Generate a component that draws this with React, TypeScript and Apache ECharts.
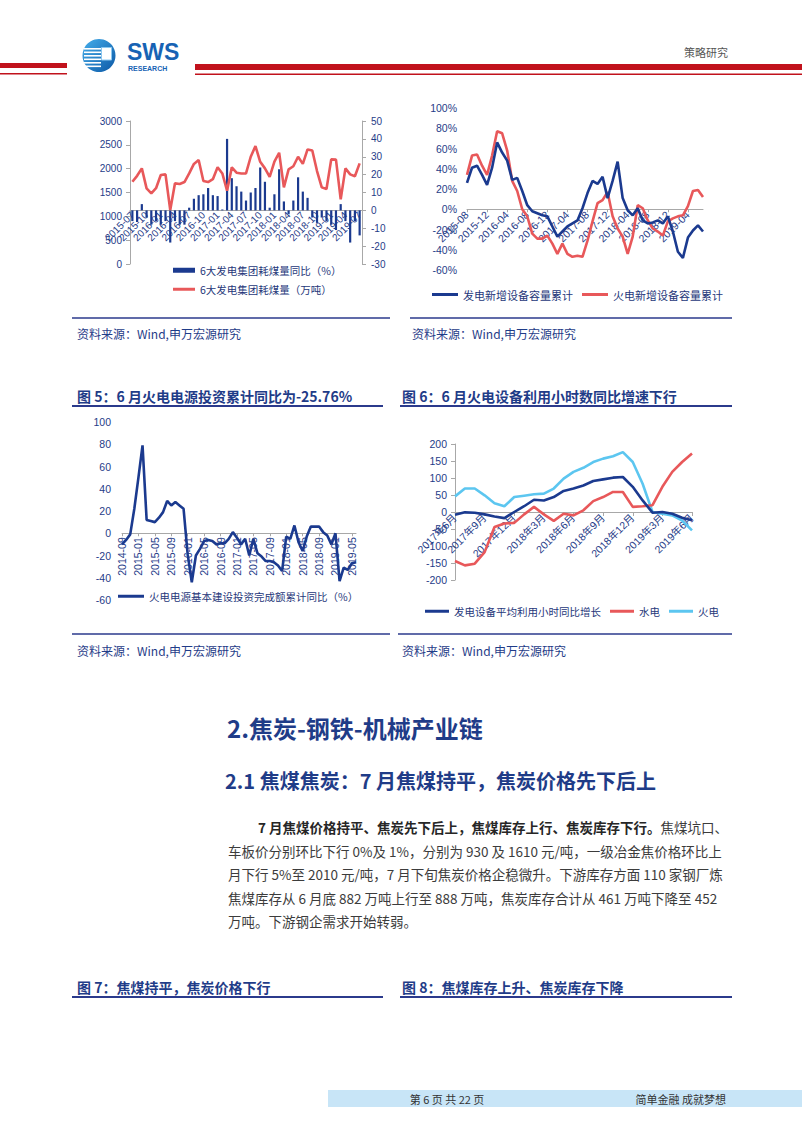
import React, { useEffect, useRef } from "react";
import * as echarts from "echarts";

// ---------- Chart A (top-left): 6大发电集团耗煤量 ----------
const c1Months = [
  "2015-07","2015-08","2015-09","2015-10","2015-11","2015-12",
  "2016-01","2016-02","2016-03","2016-04","2016-05","2016-06","2016-07","2016-08","2016-09","2016-10","2016-11","2016-12",
  "2017-01","2017-02","2017-03","2017-04","2017-05","2017-06","2017-07","2017-08","2017-09","2017-10","2017-11","2017-12",
  "2018-01","2018-02","2018-03","2018-04","2018-05","2018-06","2018-07","2018-08","2018-09","2018-10","2018-11","2018-12",
  "2019-01","2019-02","2019-03","2019-04","2019-05","2019-06","2019-07",
];
const c1YoY = [
  -6, -6.5, 3.5, -4, -8, -6, -8, -6, -18, -6,
  -8, -8, 1.5, 6.5, 8.5, 9, 12.5, 8.5, 8, 0.5,
  40, 18, 13.5, 10.5, 5.5, 10, 12.5, 24, 16, 1.5,
  9, 23, 5, -2, 5.5, 18.5, 10.5, 7, -4, -7,
  -4, -6, -8, -11, 3.5, -6, -18, -6, -14,
];
const c1Coal = [
  1726, 1850, 2006, 1587, 1482, 1590, 1866, 1880, 1130, 1692,
  1680, 1720, 1900, 2100, 2180, 1740, 1720, 1780, 2030, 1900,
  1537, 2027, 1915, 1900, 1900, 2250, 2474, 2145, 2006, 1830,
  2150, 2334, 1608, 1985, 2050, 2250, 2100, 2404, 2380, 1950,
  1608, 1573, 2194, 2190, 1356, 2006, 1880, 1840, 2110,
];
const c1LeftTicks = [0, 3000, 500];
const c1RightTicks = [-30, 50, 10];

// ---------- Chart B (top-right): 新增设备容量累计 ----------
const c2Months = [
  "2015-08","2015-09","2015-10","2015-11","2015-12",
  "2016-01","2016-02","2016-03","2016-04","2016-05","2016-06","2016-07","2016-08","2016-09","2016-10","2016-11","2016-12",
  "2017-01","2017-02","2017-03","2017-04","2017-05","2017-06","2017-07","2017-08","2017-09","2017-10","2017-11","2017-12",
  "2018-01","2018-02","2018-03","2018-04","2018-05","2018-06","2018-07","2018-08","2018-09","2018-10","2018-11","2018-12",
  "2019-01","2019-02","2019-03","2019-04","2019-05","2019-06","2019-07",
];
const c2Total = [
  26, 41, 43, 34, 24, 41, 66, 56, 48, 29,
  31, 18, 4, -2, -4, -6, -7, -17, -27, -22,
  -17, -14, -11, 1, 16, 28, 25, 32, 11, 28,
  47, 11, -1, -6, 1, -11, -14, -13, -11, -14,
  -7, -22, -42, -48, -28, -21, -16, -22,
];
const c2Thermal = [
  34, 53, 54, 43, 34, 53, 77, 75, 58, 28,
  18, 0, -7, -24, -29, -29, -26, -34, -44, -34,
  -44, -47, -46, -47, -31, -12, 6, 9, 17, -7,
  -19, -27, -44, -27, 4, 1, -11, -19, -22, -26,
  -12, -9, -7, -6, 3, 18, 19, 12,
];
const c2Ticks = [-60, 100, 20];

// ---------- Chart C (bottom-left): 火电电源基本建设投资 ----------
const c3Months = [
  "2014-09","2014-10","2014-11","2014-12",
  "2015-01","2015-02","2015-03","2015-04","2015-05","2015-06","2015-07","2015-08","2015-09","2015-10","2015-11","2015-12",
  "2016-01","2016-02","2016-03","2016-04","2016-05","2016-06","2016-07","2016-08","2016-09","2016-10","2016-11","2016-12",
  "2017-01","2017-02","2017-03","2017-04","2017-05","2017-06","2017-07","2017-08","2017-09","2017-10","2017-11","2017-12",
  "2018-01","2018-02","2018-03","2018-04","2018-05","2018-06","2018-07","2018-08","2018-09","2018-10","2018-11","2018-12",
  "2019-01","2019-02","2019-03","2019-04","2019-05","2019-06",
];
const c3Invest = [
  -10, -6, -1, 22, 50, 79,
  12, 11, 10, 14, 19, 29, 25, 28, 25, 22,
  -19, -44, -20, -14, -7, -6, -7, -10, -9, -9, -5, 1,
  -4, -10, -5, -20, -5, -18, -21, -25, -25, -26, -29,
  -34, -3, -5,
  7, -8, -16, -3, 6, 6, 6, 1, -2, -10, 0, -43, -31, -33, -27, -26,
];
const c3Ticks = [-60, 100, 20];

// ---------- Chart D (bottom-right): 设备平均利用小时同比 ----------
const c4Months = [
  "2017年6月","2017年7月","2017年8月","2017年9月","2017年10月","2017年11月","2017年12月",
  "2018年1月","2018年2月","2018年3月","2018年4月","2018年5月","2018年6月","2018年7月","2018年8月","2018年9月","2018年10月","2018年11月","2018年12月",
  "2019年1月","2019年2月","2019年3月","2019年4月","2019年5月","2019年6月",
];
const c4Total = [-8, -1, -2, -7, -13, -18, 0, 17, 36, 34, 44, 62, 69, 78, 91, 96, 101, 103, 74, 34, -2, 0, -5, -17, -24];
const c4Hydro = [-144, -157, -152, -118, -44, -34, -32, -7, 15, -7, -26, -5, -10, 5, 32, 44, 59, 59, 15, 17, 20, 74, 118, 147, 172];
const c4Thermal = [46, 69, 69, 49, 26, 17, 44, 48, 52, 54, 69, 98, 118, 130, 147, 157, 164, 176, 147, 83, 0, -5, -10, -25, -54];
const c4Ticks = [-200, 200, 50];

// ---------- page texts ----------
const paraLines = [
  "车板价分别环比下行 0%及 1%，分别为 930 及 1610 元/吨，一级冶金焦价格环比上",
  "月下行 5%至 2010 元/吨，7 月下旬焦炭价格企稳微升。下游库存方面 110 家钢厂炼",
  "焦煤库存从 6 月底 882 万吨上行至 888 万吨，焦炭库存合计从 461 万吨下降至 452",
  "万吨。下游钢企需求开始转弱。",
];

const NAVY = "#1B3A8F";
const RED = "#E8585A";
const SKY = "#5CC6F0";
const GRAY = "#A8A8A8";
const LBL = "#1F3C88";
const TITLE = "#1F3C88";
const FONT = "'Liberation Sans', 'Noto Sans CJK SC', sans-serif";
const CJK = "'Noto Sans CJK SC', 'Liberation Sans', sans-serif";

const axisLbl = (extra: any = {}) => ({ color: LBL, fontSize: 10.5, fontFamily: FONT, ...extra });

// grid geometry (pixels) — used to place each category axis on the zero line
const G = [
  { left: 130, top: 121, width: 232, height: 143 },
  { left: 467, top: 108, width: 236, height: 162 },
  { left: 122, top: 422, width: 234, height: 178 },
  { left: 455, top: 444, width: 237, height: 136 },
];
function zeroOffset(g: { top: number; height: number }, ticks: number[]) {
  const [min, max] = ticks;
  const zeroY = g.top + (g.height * max) / (max - min);
  return -(g.top + g.height - zeroY);
}

function legendCfg(names: string[], left: number, top: number, w: number, h: number, fs: number, gap = 8) {
  return {
    data: names.map((n) => ({ name: n, icon: "rect" })),
    left, top, itemWidth: w, itemHeight: h, itemGap: gap, padding: 0,
    selectedMode: false,
    textStyle: { color: "#26377A", fontSize: fs, fontFamily: CJK },
  };
}

function txt(text: string, x: number, y: number, fontSize: number, fill: string, bold = false, align = "left") {
  return {
    type: "text", x, y, silent: true,
    style: { text, fontSize, fontFamily: CJK, fontWeight: bold ? "bold" : "normal", fill, align, verticalAlign: "middle" },
  };
}
function hline(x1: number, x2: number, y: number, w: number, color: string) {
  return { type: "line", silent: true, shape: { x1, y1: y, x2, y2: y }, style: { stroke: color, lineWidth: w } };
}

function buildOption(): any {
  const graphic: any[] = [
    // header
    { type: "rect", shape: { x: 0, y: 63, width: 67, height: 5 }, style: { fill: "#C1121C" } },
    { type: "rect", shape: { x: 0, y: 73, width: 67, height: 1.5 }, style: { fill: "#C1121C" } },
    { type: "rect", shape: { x: 195, y: 64, width: 607, height: 6 }, style: { fill: "#C1121C" } },
    { type: "rect", shape: { x: 195, y: 73.5, width: 607, height: 1.5 }, style: { fill: "#C1121C" } },
    {
      type: "circle", shape: { cx: 99, cy: 55.5, r: 16.5 },
      style: { fill: new echarts.graphic.LinearGradient(0, 0, 1, 1, [{ offset: 0, color: "#45AEEB" }, { offset: 1, color: "#0C58A6" }]) },
    },
    ...[48, 51.5, 55, 58.5, 62, 65.5].map((y) => ({ type: "rect", shape: { x: 84, y, width: 17, height: 1.6 }, style: { fill: "#FFFFFF" } })),
    { type: "rect", shape: { x: 101.5, y: 47.5, width: 10, height: 12.5 }, style: { fill: "#FFFFFF", stroke: "#8CC8F0", lineWidth: 1 } },
    { type: "text", x: 127, y: 51.5, style: { text: "SWS", fontSize: 23, fontWeight: "bold", fontFamily: "'Liberation Sans', sans-serif", fill: "#1763B4", verticalAlign: "middle" } },
    { type: "text", x: 128, y: 68, style: { text: "RESEARCH", fontSize: 7, fontWeight: "bold", fontFamily: "'Liberation Sans', sans-serif", fill: "#1763B4", verticalAlign: "middle" } },
    txt("策略研究", 684, 52, 11, "#555555"),

    // sources top row
    hline(72, 390, 318, 1.5, "#2B3A8C"),
    hline(410, 732, 318, 1.5, "#2B3A8C"),
    txt("资料来源：Wind,申万宏源研究", 77, 333, 12, "#1F3C88"),
    txt("资料来源：Wind,申万宏源研究", 412, 333, 12, "#1F3C88"),

    // titles fig 5 / 6
    txt("图 5：6 月火电电源投资累计同比为-25.76%", 77, 396, 14, TITLE, true),
    txt("图 6：6 月火电设备利用小时数同比增速下行", 402, 396, 14, TITLE, true),
    hline(72, 383, 406, 2, "#2B3A8C"),
    hline(400, 732, 406, 2, "#2B3A8C"),

    // sources bottom row
    hline(72, 390, 634, 1.5, "#2B3A8C"),
    hline(398, 732, 634, 1.5, "#2B3A8C"),
    txt("资料来源：Wind,申万宏源研究", 77, 650, 12, "#1F3C88"),
    txt("资料来源：Wind,申万宏源研究", 402, 650, 12, "#1F3C88"),

    // headings
    txt("2.焦炭-钢铁-机械产业链", 227, 727, 24, TITLE, true),
    txt("2.1 焦煤焦炭：7 月焦煤持平，焦炭价格先下后上", 225, 780, 20, TITLE, true),

    // paragraph
    {
      type: "text", x: 258, y: 827, silent: true,
      style: {
        text: "{b|7 月焦煤价格持平、焦炭先下后上，焦煤库存上行、焦炭库存下行。}{n|焦煤坑口、}",
        verticalAlign: "middle",
        rich: {
          b: { fontSize: 13.5, fontWeight: "bold", fontFamily: CJK, fill: "#262626" },
          n: { fontSize: 13.5, fontFamily: CJK, fill: "#3C3C3C" },
        },
      },
    },
    ...paraLines.map((t, i) => txt(t, 228, 850.5 + i * 23.5, 13.5, "#3C3C3C")),

    // titles fig 7 / 8
    txt("图 7：焦煤持平，焦炭价格下行", 77, 987, 14, TITLE, true),
    txt("图 8：焦煤库存上升、焦炭库存下降", 402, 987, 14, TITLE, true),
    hline(72, 383, 997, 2, "#2B3A8C"),
    hline(400, 732, 997, 2, "#2B3A8C"),

    // footer
    { type: "rect", shape: { x: 328, y: 1090, width: 474, height: 17 }, style: { fill: "#C8E5F7" } },
    txt("第 6 页 共 22 页", 447, 1098.5, 11, "#333333", false, "center"),
    txt("简单金融 成就梦想", 726, 1098.5, 11, "#333333", false, "right"),
  ];

  const gridBase = { outerBoundsMode: "none", containLabel: false };
  const xLine = { onZero: false, lineStyle: { color: GRAY, width: 1 } };

  return {
    animation: false,
    backgroundColor: "#FFFFFF",
    textStyle: { fontFamily: FONT },
    grid: G.map((g) => ({ ...gridBase, ...g })),
    xAxis: [
      {
        gridIndex: 0, type: "category", data: c1Months, boundaryGap: true,
        offset: zeroOffset(G[0], c1RightTicks),
        axisLine: xLine,
        axisTick: { show: false },
        axisLabel: axisLbl({ interval: 2, rotate: 45, margin: 3, fontSize: 10 }),
      },
      {
        gridIndex: 1, type: "category", data: c2Months, boundaryGap: false,
        offset: zeroOffset(G[1], c2Ticks),
        axisLine: xLine,
        axisTick: { show: true, interval: 3, length: 3, lineStyle: { color: GRAY } },
        axisLabel: axisLbl({ interval: 3, rotate: 45, margin: 4 }),
      },
      {
        gridIndex: 2, type: "category", data: c3Months, boundaryGap: false,
        offset: zeroOffset(G[2], c3Ticks),
        axisLine: xLine,
        axisTick: { show: true, interval: 3, length: 3, lineStyle: { color: GRAY } },
        axisLabel: axisLbl({ interval: 3, rotate: 90, margin: 4 }),
      },
      {
        gridIndex: 3, type: "category", data: c4Months, boundaryGap: false,
        offset: zeroOffset(G[3], c4Ticks),
        axisLine: xLine,
        axisTick: { show: true, interval: 2, length: 4, lineStyle: { color: GRAY } },
        axisLabel: axisLbl({ interval: 2, rotate: 45, margin: 4 }),
      },
    ],
    yAxis: [
      {
        gridIndex: 0, type: "value", min: c1LeftTicks[0], max: c1LeftTicks[1], interval: c1LeftTicks[2],
        axisLine: { show: true, lineStyle: { color: GRAY } },
        axisTick: { show: true, length: 4, lineStyle: { color: GRAY } },
        splitLine: { show: false },
        axisLabel: axisLbl({ margin: 8, fontSize: 10, formatter: (v: number) => String(v) }),
      },
      {
        gridIndex: 0, type: "value", position: "right", min: c1RightTicks[0], max: c1RightTicks[1], interval: c1RightTicks[2],
        axisLine: { show: true, lineStyle: { color: GRAY } },
        axisTick: { show: true, length: 4, lineStyle: { color: GRAY } },
        splitLine: { show: false },
        axisLabel: axisLbl({ margin: 9, fontSize: 10, formatter: (v: number) => String(v) }),
      },
      {
        gridIndex: 1, type: "value", min: c2Ticks[0], max: c2Ticks[1], interval: c2Ticks[2],
        axisLine: { show: false }, axisTick: { show: false }, splitLine: { show: false },
        axisLabel: axisLbl({ margin: 10, formatter: (v: number) => v + "%" }),
      },
      {
        gridIndex: 2, type: "value", min: c3Ticks[0], max: c3Ticks[1], interval: c3Ticks[2],
        axisLine: { show: false }, axisTick: { show: false }, splitLine: { show: false },
        axisLabel: axisLbl({ margin: 11, formatter: (v: number) => String(v) }),
      },
      {
        gridIndex: 3, type: "value", min: c4Ticks[0], max: c4Ticks[1], interval: c4Ticks[2],
        axisLine: { show: true, lineStyle: { color: GRAY } },
        axisTick: { show: true, length: 4, lineStyle: { color: GRAY } },
        splitLine: { show: false },
        axisLabel: axisLbl({ margin: 8, formatter: (v: number) => String(v) }),
      },
    ],
    legend: [
      legendCfg(["6大发电集团耗煤量同比（%）"], 173, 265, 22, 5, 10.5),
      legendCfg(["6大发电集团耗煤量（万吨）"], 173, 284, 22, 3, 10.5),
      legendCfg(["发电新增设备容量累计", "火电新增设备容量累计"], 432, 289, 26, 3, 11, 9),
      legendCfg(["火电电源基本建设投资完成额累计同比（%）"], 118, 591, 26, 3, 10.5),
      legendCfg(["发电设备平均利用小时同比增长", "水电", "火电"], 425, 606, 24, 3, 10.5, 9),
    ],
    series: [
      {
        type: "bar", name: "6大发电集团耗煤量同比（%）", xAxisIndex: 0, yAxisIndex: 1, data: c1YoY,
        barWidth: 2.2, itemStyle: { color: NAVY }, z: 2,
      },
      {
        type: "line", name: "6大发电集团耗煤量（万吨）", xAxisIndex: 0, yAxisIndex: 0, data: c1Coal,
        symbol: "none", lineStyle: { color: RED, width: 2.6 }, itemStyle: { color: RED }, z: 3,
      },
      {
        type: "line", name: "发电新增设备容量累计", xAxisIndex: 1, yAxisIndex: 2, data: c2Total,
        symbol: "none", lineStyle: { color: NAVY, width: 2.6 }, itemStyle: { color: NAVY }, z: 3,
      },
      {
        type: "line", name: "火电新增设备容量累计", xAxisIndex: 1, yAxisIndex: 2, data: c2Thermal,
        symbol: "none", lineStyle: { color: RED, width: 2.6 }, itemStyle: { color: RED }, z: 2,
      },
      {
        type: "line", name: "火电电源基本建设投资完成额累计同比（%）", xAxisIndex: 2, yAxisIndex: 3, data: c3Invest,
        symbol: "none", lineStyle: { color: NAVY, width: 2.6 }, itemStyle: { color: NAVY },
      },
      {
        type: "line", name: "发电设备平均利用小时同比增长", xAxisIndex: 3, yAxisIndex: 4, data: c4Total,
        symbol: "none", lineStyle: { color: NAVY, width: 2.6 }, itemStyle: { color: NAVY }, z: 4,
      },
      {
        type: "line", name: "水电", xAxisIndex: 3, yAxisIndex: 4, data: c4Hydro,
        symbol: "none", lineStyle: { color: RED, width: 2.6 }, itemStyle: { color: RED }, z: 3,
      },
      {
        type: "line", name: "火电", xAxisIndex: 3, yAxisIndex: 4, data: c4Thermal,
        symbol: "none", lineStyle: { color: SKY, width: 2.6 }, itemStyle: { color: SKY }, z: 2,
      },
    ],
    graphic,
  };
}

export default function App() {
  const ref = useRef<HTMLDivElement>(null);
  useEffect(() => {
    if (!ref.current) return;
    const chart = echarts.init(ref.current, null, { renderer: "svg" });
    chart.setOption(buildOption());
    return () => chart.dispose();
  }, []);
  return (
    <div
      ref={ref}
      style={{ position: "absolute", left: 0, top: 0, width: 802, height: 1133, background: "#FFFFFF" }}
    />
  );
}
